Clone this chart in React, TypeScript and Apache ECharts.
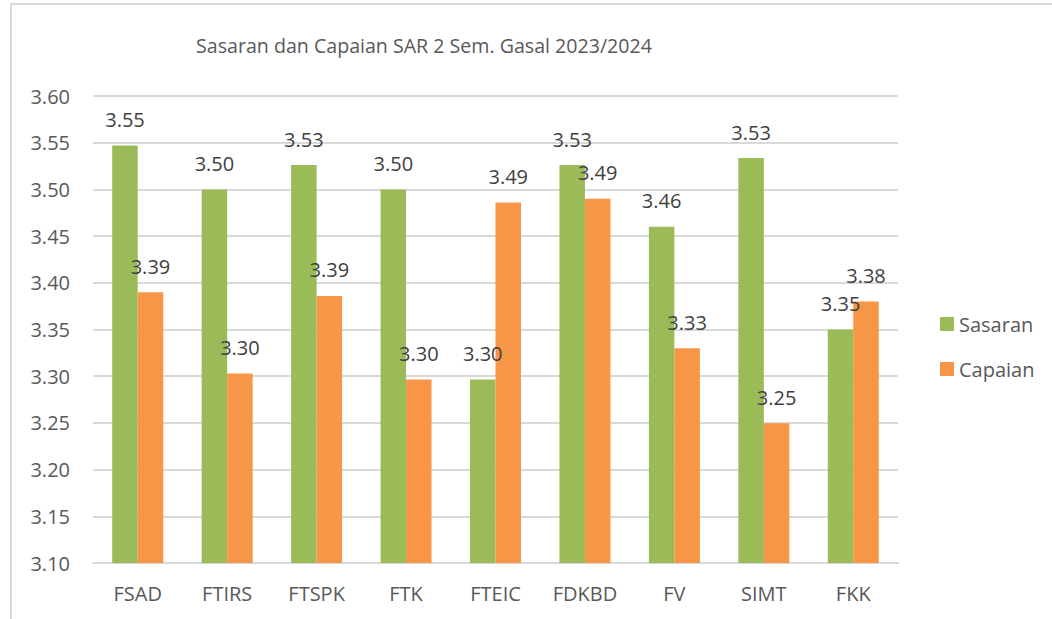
import React, { useEffect, useRef } from "react";
import * as echarts from "echarts";

const titleText = "Sasaran dan Capaian SAR 2 Sem. Gasal 2023/2024";
const categories = ["FSAD", "FTIRS", "FTSPK", "FTK", "FTEIC", "FDKBD", "FV", "SIMT", "FKK"];
const sasaran = [3.547, 3.5, 3.526, 3.5, 3.2965, 3.526, 3.46, 3.5336, 3.35];
const capaian = [3.39, 3.303, 3.386, 3.2965, 3.486, 3.49, 3.33, 3.2497, 3.38];
const seriesNames = ["Sasaran", "Capaian"];
const yMin = 3.1;
const yMax = 3.6;
const yStep = 0.05;

const FONT = "Open Sans";

export default function App() {
  const ref = useRef<HTMLDivElement>(null);
  useEffect(() => {
    if (!ref.current) return;
    const chart = echarts.init(ref.current, undefined, { renderer: "svg" });
    const label = {
      show: true,
      position: "top",
      distance: 16,
      fontFamily: FONT,
      fontSize: 20,
      color: "#404040",
      formatter: (p: any) => Number(p.value).toFixed(2),
    };
    chart.setOption({
      animation: false,
      backgroundColor: "#ffffff",
      textStyle: { fontFamily: FONT },
      title: {
        text: titleText,
        left: 419,
        top: 30,
        textAlign: "center",
        textStyle: { fontFamily: FONT, fontSize: 19.6, fontWeight: "normal", color: "#595959" },
      },
      legend: {
        orient: "vertical",
        left: 940,
        top: 314,
        padding: 0,
        itemWidth: 14,
        itemHeight: 14,
        itemGap: 25,
        icon: "rect",
        textStyle: { fontFamily: FONT, fontSize: 20, color: "#595959" },
        data: seriesNames,
      },
      grid: { left: 93, right: 154, top: 96, bottom: 56, containLabel: false },
      xAxis: {
        type: "category",
        data: categories,
        axisLine: { lineStyle: { color: "#D9D9D9", width: 2 } },
        axisTick: { show: false },
        axisLabel: { fontFamily: FONT, fontSize: 20, color: "#595959", margin: 20 },
      },
      yAxis: {
        type: "value",
        min: yMin,
        max: yMax,
        interval: yStep,
        axisLine: { show: false },
        axisTick: { show: false },
        splitLine: { lineStyle: { color: "#D9D9D9", width: 2 } },
        axisLabel: {
          fontFamily: FONT,
          fontSize: 20,
          color: "#595959",
          margin: 23,
          formatter: (v: number) => v.toFixed(2),
        },
      },
      series: [
        {
          name: seriesNames[0],
          type: "bar",
          data: sasaran,
          barGap: "0%",
          barCategoryGap: "43%",
          itemStyle: { color: "#9BBB59" },
          label,
        },
        {
          name: seriesNames[1],
          type: "bar",
          data: capaian,
          itemStyle: { color: "#F79646" },
          label,
        },
      ],
      graphic: [
        { type: "line", shape: { x1: 11, y1: 3, x2: 11, y2: 640 }, style: { stroke: "#D9D9D9", lineWidth: 2 } },
        { type: "line", shape: { x1: 10, y1: 4, x2: 1060, y2: 4 }, style: { stroke: "#D9D9D9", lineWidth: 2 } },
      ],
    });
    return () => chart.dispose();
  }, []);
  return (
    <div
      ref={ref}
      style={{ position: "fixed", left: 0, top: 0, width: 1052, height: 619 }}
    />
  );
}
